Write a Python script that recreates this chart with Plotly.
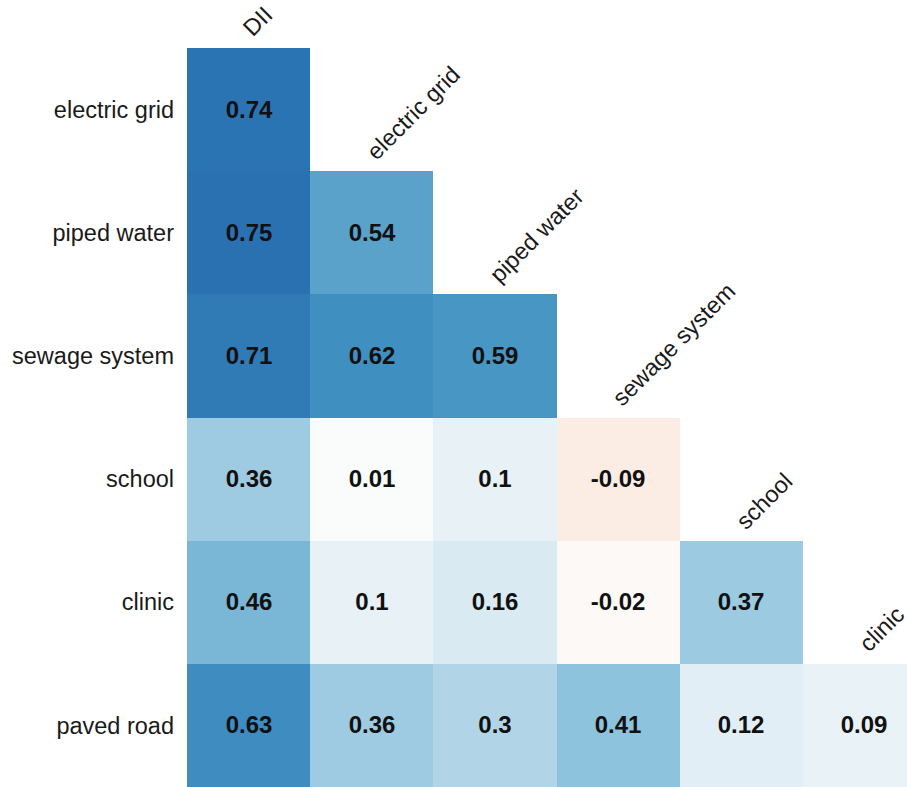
import plotly.graph_objects as go

# Lower-triangular correlation matrix of infrastructure indicators
row_labels = ["electric grid", "piped water", "sewage system", "school", "clinic", "paved road"]
col_labels = ["DII", "electric grid", "piped water", "sewage system", "school", "clinic"]

r_electric_grid = [0.74]
r_piped_water = [0.75, 0.54]
r_sewage_system = [0.71, 0.62, 0.59]
r_school = [0.36, 0.01, 0.1, -0.09]
r_clinic = [0.46, 0.1, 0.16, -0.02, 0.37]
r_paved_road = [0.63, 0.36, 0.3, 0.41, 0.12, 0.09]

rows = [r_electric_grid, r_piped_water, r_sewage_system, r_school, r_clinic, r_paved_road]
n_cols = len(col_labels)

z = [r + [None] * (n_cols - len(r)) for r in rows]
txt = [[f"{v:g}" for v in r] + [""] * (n_cols - len(r)) for r in rows]

# Diverging red-blue scale with a near-white centre
rdbu = [
    [0.0, "#67001f"], [0.1, "#b2182b"], [0.2, "#d6604d"], [0.3, "#f4a582"],
    [0.4, "#fddbc7"], [0.5, "#fcfcfc"], [0.6, "#d1e5f0"], [0.7, "#92c5de"],
    [0.8, "#4393c3"], [0.9, "#2166ac"], [1.0, "#053061"],
]

FONT = "Liberation Sans, Arial, sans-serif"

fig = go.Figure(
    go.Heatmap(
        z=z,
        x=list(range(n_cols)),
        y=list(range(len(row_labels))),
        text=txt,
        texttemplate="%{text}",
        textfont=dict(family=FONT, size=24, color="#111111", weight="bold"),
        colorscale=rdbu,
        zmin=-1,
        zmax=1,
        showscale=False,
        hoverongaps=False,
    )
)

W, H = 907, 787
ml, mt = 187, 48
plot_h = H - mt
cell = plot_h / len(row_labels)
x_hi = -0.5 + (W - ml) / cell

# Column names sit diagonally above the first filled cell of each column
for j, name in enumerate(col_labels):
    fig.add_annotation(
        x=j, y=j - 0.5, xref="x", yref="y",
        text=name, showarrow=False,
        textangle=-45, xanchor="left", yanchor="bottom",
        xshift=-13, yshift=4,
        font=dict(family=FONT, size=23.5, color="#1a1a1a"),
    )

fig.update_layout(
    width=W, height=H,
    margin=dict(l=ml, r=0, t=mt, b=0, pad=0),
    paper_bgcolor="white", plot_bgcolor="white",
    font=dict(family=FONT, size=23.5, color="#1a1a1a"),
    xaxis=dict(range=[-0.5, x_hi], showticklabels=False, showgrid=False,
               zeroline=False, showline=False, ticks=""),
    yaxis=dict(range=[len(row_labels) - 0.5, -0.5], tickvals=list(range(len(row_labels))),
               ticktext=row_labels, showgrid=False, zeroline=False, showline=False,
               ticks="", ticklabelstandoff=12),
)

fig.write_html("out.html")
